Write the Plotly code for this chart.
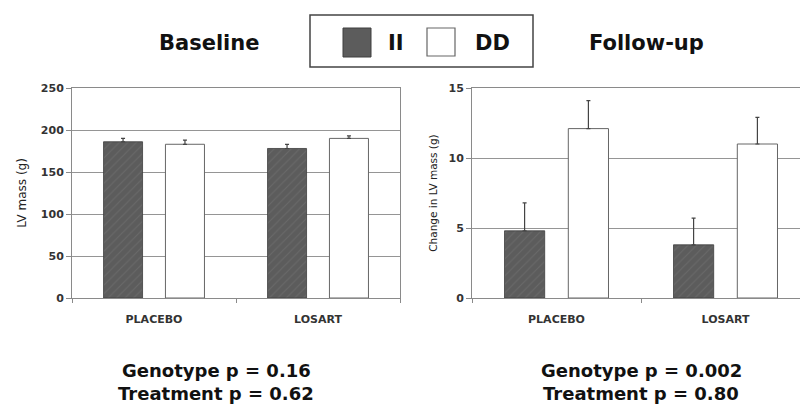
import plotly.graph_objects as go

# ---- data ----
categories = ["PLACEBO", "LOSART"]
genotypes = ["II", "DD"]

baseline_II = [186, 178]
baseline_II_err = [4, 5]
baseline_DD = [183, 190]
baseline_DD_err = [5, 3]

followup_II = [4.8, 3.8]
followup_II_err = [2.0, 1.9]
followup_DD = [12.1, 11.0]
followup_DD_err = [2.0, 1.9]

panel_titles = ["Baseline", "Follow-up"]
left_stats = ["Genotype p = 0.16", "Treatment p = 0.62"]
right_stats = ["Genotype p = 0.002", "Treatment p = 0.80"]

# ---- style ----
W, H = 800, 405
BOLD = "DejaVu Sans"
II_COLOR = "#5c5c5c"
DD_COLOR = "#ffffff"
AX = "#8a8a8a"
GRID = "#959595"


def px(x):
    return x / W


def py(y):
    return 1 - y / H


def ii_marker():
    return dict(color=II_COLOR,
                line=dict(color="#3e3e3e", width=0.8),
                pattern=dict(shape="/", fgcolor="#767676", size=6, solidity=0.18))


def dd_marker():
    return dict(color=DD_COLOR, line=dict(color="#666666", width=1))


def err(vals):
    return dict(type="data", array=vals, arrayminus=[0] * len(vals), symmetric=False,
                color="#444444", thickness=1.2, width=2)


fig = go.Figure()
fig.add_trace(go.Bar(x=categories, y=baseline_II, name=genotypes[0], marker=ii_marker(),
                     error_y=err(baseline_II_err), xaxis="x", yaxis="y", showlegend=False))
fig.add_trace(go.Bar(x=categories, y=baseline_DD, name=genotypes[1], marker=dd_marker(),
                     error_y=err(baseline_DD_err), xaxis="x", yaxis="y", showlegend=False))
fig.add_trace(go.Bar(x=categories, y=followup_II, name=genotypes[0], marker=ii_marker(),
                     error_y=err(followup_II_err), xaxis="x2", yaxis="y2", showlegend=False))
fig.add_trace(go.Bar(x=categories, y=followup_DD, name=genotypes[1], marker=dd_marker(),
                     error_y=err(followup_DD_err), xaxis="x2", yaxis="y2", showlegend=False))

y_dom = [py(298), py(88)]

xcommon = dict(type="category", tickson="boundaries", ticks="outside", ticklen=4,
               tickcolor=AX, showline=True, linecolor=AX, linewidth=1, showgrid=False,
               automargin=False,
               tickfont=dict(family=BOLD, size=11, color="#333333", weight="bold"),
               ticklabelstandoff=11)
ycommon = dict(ticks="outside", ticklen=5, tickcolor=AX, showline=True, linecolor=AX,
               linewidth=1, showgrid=True, gridcolor=GRID, gridwidth=1, zeroline=False,
               automargin=False,
               tickfont=dict(family="DejaVu Sans", size=11, color="#333333", weight="bold"),
               domain=y_dom)

fig.update_layout(
    width=W, height=H,
    margin=dict(l=0, r=0, t=0, b=0, autoexpand=False),
    paper_bgcolor="white", plot_bgcolor="white",
    barmode="group", bargap=0.245, bargroupgap=0.37,
    xaxis=dict(domain=[px(72), px(400)], range=[-0.5, 1.5], mirror=True, anchor="y", **xcommon),
    yaxis=dict(range=[0, 250], dtick=50, mirror=True, anchor="x",
               title=dict(text="LV mass (g)", standoff=11,
                          font=dict(family="DejaVu Sans", size=12, color="#222222")),
               **ycommon),
    xaxis2=dict(domain=[px(472), 1.0], range=[-0.5, -0.5 + 328 / 169], mirror=True,
                anchor="y2", **xcommon),
    yaxis2=dict(range=[0, 15], dtick=5, mirror=False, anchor="x2",
                title=dict(text="Change in LV mass (g)", standoff=8,
                           font=dict(family="DejaVu Sans", size=10.5, color="#222222")),
               **ycommon),
)

# ---- headers ----
ann = []
ann.append(dict(text=panel_titles[0], x=px(209), y=py(43), xref="paper", yref="paper",
                xanchor="center", yanchor="middle", showarrow=False,
                font=dict(family=BOLD, size=21, color="#111111", weight="bold")))
ann.append(dict(text=panel_titles[1], x=px(587), y=py(43), xref="paper", yref="paper",
                xanchor="left", yanchor="middle", showarrow=False,
                font=dict(family=BOLD, size=21, color="#111111", weight="bold")))

# ---- legend (drawn box) ----
shapes = [
    dict(type="rect", xref="paper", yref="paper", x0=px(310), x1=px(533), y0=py(67), y1=py(15),
         line=dict(color="#444444", width=1.5), fillcolor="white"),
    dict(type="rect", xref="paper", yref="paper", x0=px(343), x1=px(371), y0=py(57), y1=py(28),
         line=dict(color="#3e3e3e", width=1), fillcolor=II_COLOR),
    dict(type="rect", xref="paper", yref="paper", x0=px(427), x1=px(455), y0=py(56), y1=py(28),
         line=dict(color="#666666", width=1.2), fillcolor="white"),
]
ann.append(dict(text=genotypes[0], x=px(396), y=py(43), xref="paper", yref="paper",
                xanchor="center", yanchor="middle", showarrow=False,
                font=dict(family=BOLD, size=21, color="#111111", weight="bold")))
ann.append(dict(text=genotypes[1], x=px(492), y=py(43), xref="paper", yref="paper",
                xanchor="center", yanchor="middle", showarrow=False,
                font=dict(family=BOLD, size=21, color="#111111", weight="bold")))

# ---- stats text ----
for i, ys in enumerate([370, 393]):
    ann.append(dict(text=left_stats[i], x=px(216), y=py(ys), xref="paper", yref="paper",
                    xanchor="center", yanchor="middle", showarrow=False,
                    font=dict(family=BOLD, size=18, color="#111111", weight="bold")))
    ann.append(dict(text=right_stats[i], x=px(641), y=py(ys), xref="paper", yref="paper",
                    xanchor="center", yanchor="middle", showarrow=False,
                    font=dict(family=BOLD, size=18, color="#111111", weight="bold")))

fig.update_layout(annotations=ann, shapes=shapes)
fig.write_html("out.html",
               config={"displayModeBar": False},
               post_script="document.body.style.margin='0';document.body.style.overflow='hidden';")
